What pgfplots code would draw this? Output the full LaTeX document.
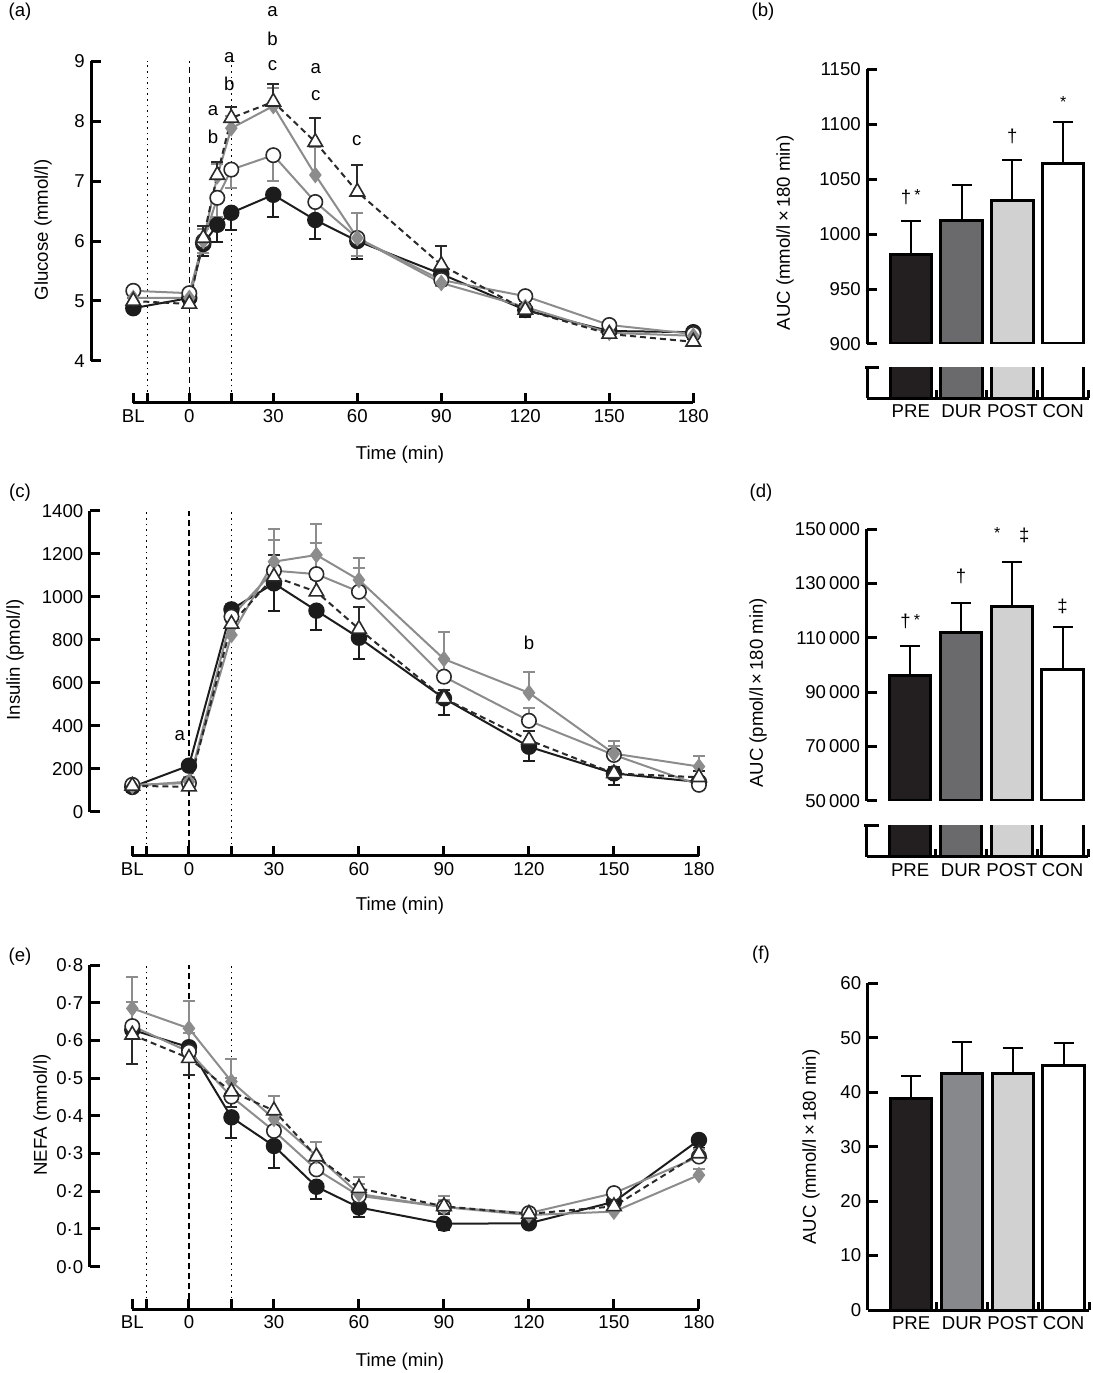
\documentclass[border=0pt]{standalone}
\usepackage{pgfplots}
\pgfplotsset{compat=1.18}
\usepackage{fontspec}
\setmainfont{Liberation Sans}
\definecolor{cblk}{HTML}{1C1C1C}
\definecolor{cgry}{HTML}{8C8C8C}
\definecolor{ctri}{HTML}{2A2A2A}
\definecolor{bpre}{HTML}{231F20}
\definecolor{bdur}{HTML}{6A6A6D}
\definecolor{bdurf}{HTML}{87888B}
\definecolor{bpost}{HTML}{D1D1D1}
\newcommand\px[2]{({#1*0.5pt},{(1373-#2)*0.5pt})}
\pgfplotsset{
  timeax/.style={scale only axis, anchor=south west, clip=false,
    axis lines*=left, axis line style={draw=none},
    xtick={-20,-15,0,15,30,60,90,120,150,180},
    xticklabels={BL,,0,,30,60,90,120,150,180},
    tick align=inside, major tick length=5pt,
    tick style={line width=1.5pt, black},
    /pgf/number format/assume math mode=true,
    xmin=-35, xmax=182},
  eb/.style 2 args={error bars/y dir=#1, error bars/y explicit,
    error bars/error bar style={solid, line width=1pt, color=#2},
    error bars/error mark options={solid, rotate=90, mark size=3pt, line width=1pt, color=#2}},
  sBlk/.style={color=cblk, line width=1pt, mark=*, mark size=3.6pt,
    mark options={solid, fill=cblk, draw=cblk}, eb={minus}{cblk}},
  sCir/.style={color=cgry, line width=1pt, mark=*, mark size=3.6pt,
    mark options={solid, fill=white, draw=ctri, line width=0.8pt}, eb={#1}{cgry}},
  sCir/.default=minus,
  sDia/.style={color=cgry, line width=1pt, mark=diamond*, mark size=3.4pt,
    mark options={solid, fill=cgry, draw=cgry}, eb={plus}{cgry}},
  sTri/.style={color=ctri, line width=1pt, dash pattern=on 3pt off 2pt, mark=triangle*, mark size=4.2pt,
    mark options={solid, fill=white, draw=ctri, line width=0.8pt}, eb={#1}{ctri}},
  sTri/.default=plus,
  barax/.style={scale only axis, anchor=south west, clip mode=individual,
    xmin=-0.856, xmax=3.5, width=110.65pt,
    axis line style={line width=1.5pt},
    tick align=inside, major tick length=5pt,
    tick style={line width=1.5pt, black},
    scaled y ticks=false,
    /pgf/number format/assume math mode=true},
  bar/.style={ybar, bar shift=0pt, bar width=0.817, draw=black, line width=1.5pt, fill=#1,
    error bars/y dir=plus, error bars/y explicit,
    error bars/error bar style={line width=1pt, black},
    error bars/error mark options={rotate=90, mark size=5pt, line width=1pt, black}},
  nbar/.style={ybar, bar shift=0pt, bar width=0.817, draw=black, line width=1.5pt, fill=#1},
}
\begin{document}
\fontsize{9.3}{11}\selectfont
\begin{tikzpicture}
\path[use as bounding box] (0,0) rectangle (546.5pt,686.5pt);

% ---------------- (a) Glucose ----------------
\begin{axis}[timeax, at={(45.65pt,485pt)}, width=303.8pt, height=171pt,
  ymin=3.3, ymax=9, ytick={4,5,6,7,8,9}]
\draw[line width=1.5pt] (axis cs:-35,4) -- (axis cs:-35,9);
\draw[line width=1.5pt] (axis cs:-20,3.3) -- (axis cs:180,3.3);
\draw[dotted, line width=0.8pt] (axis cs:-15,3.3) -- (axis cs:-15,9);
\draw[dash pattern=on 3pt off 2pt, line width=0.8pt] (axis cs:0,3.3) -- (axis cs:0,9);
\draw[dotted, line width=0.8pt] (axis cs:15,3.3) -- (axis cs:15,9);
\addplot[sBlk] coordinates {(-20,4.88)+-(0,0.08) (0,5.05)+-(0,0.05) (5,5.95)+-(0,0.2) (10,6.27)+-(0,0.28) (15,6.47)+-(0,0.28) (30,6.77)+-(0,0.37) (45,6.35)+-(0,0.32) (60,6.0)+-(0,0.3) (90,5.45)+-(0,0.15) (120,4.85)+-(0,0.12) (150,4.5)+-(0,0.05) (180,4.48)+-(0,0.05)};
\addplot[sCir] coordinates {(-20,5.17)+-(0,0.05) (0,5.13)+-(0,0.05) (5,6.0)+-(0,0.2) (10,6.72)+-(0,0.32) (15,7.19)+-(0,0.31) (30,7.43)+-(0,0.43) (45,6.65)+-(0,0.3) (60,6.05)+-(0,0.3) (90,5.35)+-(0,0.1) (120,5.08)+-(0,0.05) (150,4.6)+-(0,0.05) (180,4.45)+-(0,0.05)};
\addplot[sDia] coordinates {(-20,5.05)+-(0,0.05) (0,5.05)+-(0,0.05) (5,6.0)+-(0,0.2) (10,7.08)+-(0,0.2) (15,7.88)+-(0,0.2) (30,8.25)+-(0,0.3) (45,7.1)+-(0,0.47) (60,6.05)+-(0,0.42) (90,5.3)+-(0,0.15) (120,4.9)+-(0,0.1) (150,4.47)+-(0,0.05) (180,4.42)+-(0,0.05)};
\addplot[sTri] coordinates {(-20,5.0)+-(0,0.05) (0,4.95)+-(0,0.05) (5,6.05)+-(0,0.2) (10,7.1)+-(0,0.22) (15,8.05)+-(0,0.18) (30,8.32)+-(0,0.3) (45,7.65)+-(0,0.4) (60,6.82)+-(0,0.45) (90,5.6)+-(0,0.32) (120,4.85)+-(0,0.1) (150,4.45)+-(0,0.05) (180,4.32)+-(0,0.05)};
\node at (axis cs:8.5,8.18) {a};
\node at (axis cs:8.5,7.73) {b};
\node at (axis cs:14.3,9.05) {a};
\node at (axis cs:14.3,8.62) {b};
\node at (axis cs:29.7,9.82) {a};
\node at (axis cs:29.7,9.37) {b};
\node at (axis cs:29.7,8.92) {c};
\node at (axis cs:45.2,8.87) {a};
\node at (axis cs:45.2,8.42) {c};
\node at (axis cs:59.8,7.68) {c};
\end{axis}

% ---------------- (c) Insulin ----------------
\begin{axis}[timeax, at={(44.9pt,258.65pt)}, width=307.4pt, height=172.5pt,
  ymin=-204.7, ymax=1400, ytick={0,200,...,1400},
  yticklabels={0,200,400,600,800,1000,1200,1400}]
\draw[line width=1.5pt] (axis cs:-35,0) -- (axis cs:-35,1400);
\draw[line width=1.5pt] (axis cs:-20,-204.7) -- (axis cs:180,-204.7);
\draw[dotted, line width=0.8pt] (axis cs:-15,-204.7) -- (axis cs:-15,1400);
\draw[dash pattern=on 3pt off 2pt, line width=0.8pt] (axis cs:0,-204.7) -- (axis cs:0,1400);
\draw[dotted, line width=0.8pt] (axis cs:15,-204.7) -- (axis cs:15,1400);
\addplot[sBlk] coordinates {(-20,115)+-(0,25) (0,214)+-(0,10) (15,941)+-(0,50) (30,1062)+-(0,127) (45,935)+-(0,90) (60,809)+-(0,100) (90,527)+-(0,77) (120,302)+-(0,66) (150,178)+-(0,55) (180,138)+-(0,15)};
\addplot[sCir=plus] coordinates {(-20,125)+-(0,20) (0,133)+-(0,20) (15,907)+-(0,60) (30,1121)+-(0,143) (45,1105)+-(0,146) (60,1023)+-(0,109) (90,628)+-(0,80) (120,423)+-(0,58) (150,264)+-(0,40) (180,125)+-(0,20)};
\addplot[sDia] coordinates {(-20,120)+-(0,20) (0,140)+-(0,20) (15,822)+-(0,60) (30,1163)+-(0,152) (45,1194)+-(0,144) (60,1078)+-(0,103) (90,710)+-(0,127) (120,553)+-(0,95) (150,270)+-(0,60) (180,210)+-(0,50)};
\addplot[sTri] coordinates {(-20,120)+-(0,20) (0,116)+-(0,15) (15,873)+-(0,60) (30,1093)+-(0,100) (45,1023)+-(0,60) (60,850)+-(0,103) (90,527)+-(0,40) (120,333)+-(0,40) (150,178)+-(0,30) (180,160)+-(0,30)};
\node at (axis cs:-3.2,352) {a};
\node at (axis cs:120,783) {b};
\end{axis}

% ---------------- (e) NEFA ----------------
\begin{axis}[timeax, at={(44.9pt,31.85pt)}, width=307.4pt, height=172.15pt,
  ymin=-0.113, ymax=0.8, ytick={0,0.1,0.2,0.3,0.4,0.5,0.6,0.7,0.8},
  yticklabels={0·0,0·1,0·2,0·3,0·4,0·5,0·6,0·7,0·8}]
\draw[line width=1.5pt] (axis cs:-35,0) -- (axis cs:-35,0.8);
\draw[line width=1.5pt] (axis cs:-20,-0.113) -- (axis cs:180,-0.113);
\draw[dotted, line width=0.8pt] (axis cs:-15,-0.113) -- (axis cs:-15,0.8);
\draw[dash pattern=on 3pt off 2pt, line width=0.8pt] (axis cs:0,-0.113) -- (axis cs:0,0.8);
\draw[dotted, line width=0.8pt] (axis cs:15,-0.113) -- (axis cs:15,0.8);
\addplot[sBlk] coordinates {(-20,0.628)+-(0,0.02) (0,0.582)+-(0,0.02) (15,0.396)+-(0,0.056) (30,0.32)+-(0,0.057) (45,0.212)+-(0,0.033) (60,0.157)+-(0,0.024) (90,0.114)+-(0,0.017) (120,0.115)+-(0,0.013) (150,0.172)+-(0,0.02) (180,0.336)+-(0,0.02)};
\addplot[sCir=plus] coordinates {(-20,0.638)+-(0,0.065) (0,0.570)+-(0,0.05) (15,0.451)+-(0,0.05) (30,0.36)+-(0,0.05) (45,0.258)+-(0,0.03) (60,0.188)+-(0,0.03) (90,0.158)+-(0,0.02) (120,0.142)+-(0,0.01) (150,0.195)+-(0,0.01) (180,0.292)+-(0,0.02)};
\addplot[sDia] coordinates {(-20,0.685)+-(0,0.082) (0,0.632)+-(0,0.073) (15,0.491)+-(0,0.06) (30,0.392)+-(0,0.06) (45,0.294)+-(0,0.036) (60,0.193)+-(0,0.046) (90,0.158)+-(0,0.03) (120,0.137)+-(0,0.01) (150,0.146)+-(0,0.012) (180,0.243)+-(0,0.015)};
\addplot[sTri=minus] coordinates {(-20,0.615)+-(0,0.077) (0,0.553)+-(0,0.045) (15,0.464)+-(0,0.04) (30,0.414)+-(0,0.04) (45,0.292)+-(0,0.03) (60,0.208)+-(0,0.02) (90,0.16)+-(0,0.02) (120,0.14)+-(0,0.01) (150,0.16)+-(0,0.01) (180,0.30)+-(0,0.02)};
\end{axis}

% ---------------- (b) Glucose AUC ----------------
\begin{axis}[barax, at={(433.65pt,514.5pt)}, height=137.35pt,
  ymin=900, ymax=1150, ytick={900,950,1000,1050,1100,1150},
  yticklabels={900,950,1000,1050,1100,1150},
  axis x line=none, axis y line*=left]
\addplot[bar=bpre] coordinates {(0,981.8)+-(0,30.2)};
\addplot[bar=bdur] coordinates {(1,1012)+-(0,32.8)};
\addplot[bar=bpost] coordinates {(2,1030.3)+-(0,36.7)};
\addplot[bar=white] coordinates {(3,1064)+-(0,38)};
\node at (axis cs:0,1034) {†\thinspace\raisebox{0.15em}{\footnotesize *}};
\node at (axis cs:2,1088.5) {†};
\node at (axis cs:3,1120) {\footnotesize *};
\end{axis}
\begin{axis}[barax, at={(433.65pt,487.35pt)}, height=15.15pt,
  ymin=0, ymax=10, ytick=\empty, axis lines*=left,
  xtick={0,1,2,3}, xticklabels={PRE,DUR,POST,CON},
  major tick length=0pt, minor xtick={0.5,1.5,2.5,3.5},
  minor tick length=4pt, minor tick style={line width=1.5pt, black}]
\addplot[nbar=bpre] coordinates {(0,981.8)};
\addplot[nbar=bdur] coordinates {(1,1012)};
\addplot[nbar=bpost] coordinates {(2,1030.3)};
\addplot[nbar=white] coordinates {(3,1064)};
\draw[line width=1.5pt] (axis cs:-0.9,10) -- (axis cs:-0.62,10);
\end{axis}

% ---------------- (d) Insulin AUC ----------------
\begin{axis}[barax, at={(433.35pt,286.15pt)}, height=135.7pt,
  ymin=50000, ymax=150000, ytick={50000,70000,90000,110000,130000,150000},
  yticklabels={50\thinspace000,70\thinspace000,90\thinspace000,110\thinspace000,130\thinspace000,150\thinspace000},
  axis x line=none, axis y line*=left]
\addplot[bar=bpre] coordinates {(0,96040)+-(0,11060)};
\addplot[bar=bdur] coordinates {(1,112000)+-(0,10700)};
\addplot[bar=bpost] coordinates {(2,121600)+-(0,16400)};
\addplot[bar=white] coordinates {(3,98500)+-(0,15500)};
\node at (axis cs:0,115950) {†\thinspace\raisebox{0.15em}{\footnotesize *}};
\node at (axis cs:1,132500) {†};
\node at (axis cs:2,147900) {\raisebox{0.15em}{\footnotesize *}\hspace{1em}‡};
\node at (axis cs:3,121500) {‡};
\end{axis}
\begin{axis}[barax, at={(433.35pt,258.15pt)}, height=15.35pt,
  ymin=0, ymax=10000, ytick=\empty, axis lines*=left,
  xtick={0,1,2,3}, xticklabels={PRE,DUR,POST,CON},
  major tick length=0pt, minor xtick={0.5,1.5,2.5,3.5},
  minor tick length=4pt, minor tick style={line width=1.5pt, black}]
\addplot[nbar=bpre] coordinates {(0,96040)};
\addplot[nbar=bdur] coordinates {(1,112000)};
\addplot[nbar=bpost] coordinates {(2,121600)};
\addplot[nbar=white] coordinates {(3,98500)};
\draw[line width=1.5pt] (axis cs:-0.9,10000) -- (axis cs:-0.62,10000);
\end{axis}

% ---------------- (f) NEFA AUC ----------------
\begin{axis}[barax, at={(433.85pt,31.5pt)}, height=163.35pt,
  ymin=0, ymax=60, ytick={0,10,20,30,40,50,60}, axis lines*=left,
  xtick={0,1,2,3}, xticklabels={PRE,DUR,POST,CON},
  major x tick style={draw=none}, minor xtick={0.5,1.5,2.5,3.5},
  minor tick length=4pt, minor tick style={line width=1.5pt, black}]
\addplot[bar=bpre] coordinates {(0,38.9)+-(0,4.1)};
\addplot[bar=bdurf] coordinates {(1,43.5)+-(0,5.7)};
\addplot[bar=bpost] coordinates {(2,43.35)+-(0,4.75)};
\addplot[bar=white] coordinates {(3,44.9)+-(0,4.1)};
\end{axis}

% ---------------- labels ----------------
\node at \px{20}{12} {(a)};
\node at \px{763}{12} {(b)};
\node at \px{20}{493} {(c)};
\node at \px{761}{493} {(d)};
\node at \px{20}{957} {(e)};
\node at \px{761}{955} {(f)};
\node[rotate=90] at \px{43}{230} {Glucose (mmol/l)};
\node[rotate=90] at \px{15}{660} {Insulin (pmol/l)};
\node[rotate=90] at \px{42}{1115} {NEFA (mmol/l)};
\node[rotate=90] at \px{785}{233} {AUC (mmol/l\thinspace×\thinspace180 min)};
\node[rotate=90] at \px{758}{693} {AUC (pmol/l\thinspace×\thinspace180 min)};
\node[rotate=90] at \px{811}{1147} {AUC (mmol/l\thinspace×\thinspace180 min)};
\node at \px{400}{455} {Time (min)};
\node at \px{400}{906} {Time (min)};
\node at \px{400}{1362} {Time (min)};
\end{tikzpicture}
\end{document}
